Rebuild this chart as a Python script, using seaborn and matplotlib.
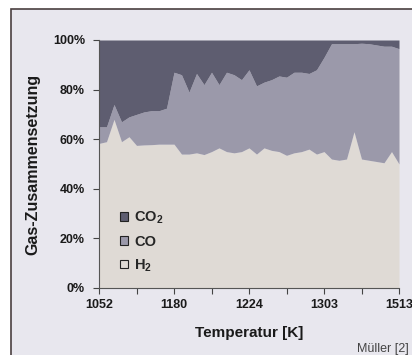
import numpy as np
import pandas as pd
import matplotlib
matplotlib.use("Agg")
import matplotlib.pyplot as plt
from matplotlib.patches import Patch, Rectangle
import seaborn as sns

# gas composition in percent (41 categories)
h2 = [58.3, 59, 68, 59, 61, 57.5, 57.7, 57.8, 58, 58, 58, 54, 54, 54.5, 53.8, 55, 56.5,
      55, 54.5, 55, 56.5, 54, 56.5, 55.5, 55, 53.5, 54.5, 55, 56, 54, 55, 52, 51.5, 52,
      63, 52, 51.5, 51, 50.5, 55, 50]
co = [6.7, 6, 6, 8, 8, 12.5, 13.3, 13.7, 13.5, 14.5, 29, 32, 25, 32, 28.2, 32, 25.5, 32,
      31.5, 29, 31.5, 27.5, 26.5, 28.5, 30.5, 31.5, 32.5, 32, 30.5, 34, 38, 46.5, 47, 46.5,
      35.5, 46.7, 47, 47, 47, 42.5, 46.5]
co2 = [35, 35, 26, 33, 31, 30, 29, 28.5, 28.5, 27.5, 13, 14, 21, 13.5, 18, 13, 18, 13, 14,
       16, 12, 18.5, 17, 16, 14.5, 15, 13, 13, 13.5, 12, 7, 1.5, 1.5, 1.5, 1.5, 1.3, 1.5, 2,
       2.5, 2.5, 3.5]
temp_labels = ["1052", "1180", "1224", "1303", "1513"]
gases = ["CO$_2$", "CO", "H$_2$"]

df = pd.DataFrame({"H2": h2, "CO": co, "CO2": co2})
df["cat"] = np.arange(len(df))

sns.set_theme(style="white")
plt.rcParams["font.family"] = ["Liberation Sans", "DejaVu Sans"]
plt.rcParams["font.weight"] = "bold"
plt.rcParams["mathtext.fontset"] = "custom"
plt.rcParams["mathtext.default"] = "bf"
plt.rcParams["mathtext.bf"] = "Liberation Sans:bold"
plt.rcParams["mathtext.rm"] = "Liberation Sans:bold"

col_co2 = "#5e5d70"
col_co = "#9b99aa"
col_h2 = "#dfdad5"
bg = "#e8e7ee"

fig = plt.figure(figsize=(4.12, 3.55), dpi=100, facecolor="white")
# outer frame like the scanned figure
fig.add_artist(Rectangle((11 / 412, -0.1), 1.1, 0.1 + 1 - 9 / 355,
                         transform=fig.transFigure, facecolor=bg,
                         edgecolor="#4a4040", linewidth=1.2, zorder=0))

ax = fig.add_axes([99 / 412, 1 - 288 / 355, 300 / 412, 248 / 355])
ax.set_facecolor(bg)
ax.stackplot(df["cat"], df["H2"], df["CO"], df["CO2"],
             colors=[col_h2, col_co, col_co2], linewidth=0)

n = len(df)
ax.set_xlim(0, n - 1)
ax.set_ylim(0, 100)
ax.set_yticks(np.arange(0, 101, 20))
ax.set_yticklabels([f"{v}%" for v in range(0, 101, 20)], fontsize=9, fontweight="bold",
                   color="#1a1a1a")
xt = np.arange(0, n, 5)
ax.set_xticks(xt)
ax.set_xticklabels([temp_labels[i // 2] if i % 2 == 0 else "" for i in range(len(xt))],
                   fontsize=9, fontweight="bold", color="#1a1a1a")
ax.tick_params(axis="both", which="major", direction="out", length=4, width=0.8,
               color="#444444", bottom=True, left=True, pad=4)
ax.tick_params(axis="y", pad=6)

sns.despine(ax=ax, top=True, right=True)
for s in ["left", "bottom"]:
    ax.spines[s].set_color("#555555")
    ax.spines[s].set_linewidth(0.8)

ax.set_xlabel("Temperatur [K]", fontsize=11, fontweight="bold", labelpad=11,
              color="#1a1a1a")
ax.set_ylabel("Gas-Zusammensetzung", fontsize=11.5, fontweight="bold", labelpad=9,
              color="#1a1a1a")

handles = [Patch(facecolor=c, edgecolor="#222222", linewidth=0.8)
           for c in [col_co2, col_co, col_h2]]
leg = ax.legend(handles, gases, loc="upper left", bbox_to_anchor=(0.025, 0.37),
                frameon=False, handlelength=0.55, handleheight=0.55, handletextpad=0.45,
                labelspacing=0.6, prop={"weight": "bold", "size": 10.5})

# source note in the lower right corner, kept inside the picture
fig.text(409 / 412, 1 - 352 / 355, "Müller [2]", fontsize=9, fontweight="normal",
         color="#444444", va="baseline", ha="right")

fig.savefig("out.png", dpi=100, facecolor="white")
